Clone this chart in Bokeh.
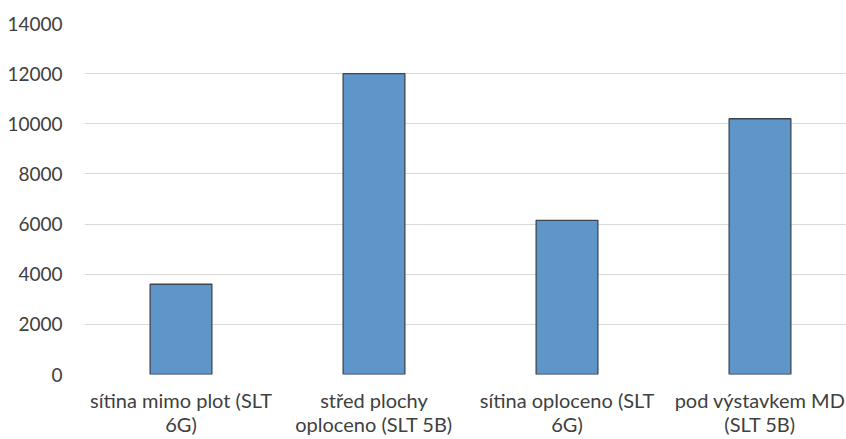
from bokeh.plotting import figure
from bokeh.models import FixedTicker, ColumnDataSource, Range1d
from bokeh.embed import file_html
from bokeh.resources import INLINE

categories = ["sítina mimo plot (SLT\n6G)", "střed plochy\noploceno (SLT 5B)",
              "sítina oploceno (SLT\n6G)", "pod výstavkem MD\n(SLT 5B)"]
values = [3600, 12000, 6150, 10200]
y_ticks = [0, 2000, 4000, 6000, 8000, 10000, 12000, 14000]

xs = [i + 0.5 for i in range(len(categories))]
src = ColumnDataSource(dict(x=xs, top=values))

p = figure(width=846, height=439, output_backend="svg", toolbar_location=None,
           x_range=Range1d(0, 762 / 193), y_range=Range1d(0, 14000),
           min_border_left=84, min_border_right=0, min_border_top=23, min_border_bottom=63)
p.outline_line_color = None
p.background_fill_color = "white"
p.border_fill_color = "white"

p.vbar(x="x", top="top", width=0.32, source=src, fill_color="#5f96ca",
       line_color="#3b4552", line_width=1.3)

p.xgrid.grid_line_color = None
p.ygrid.grid_line_color = "#d9d9d9"
p.ygrid.grid_line_width = 1.2
p.yaxis.ticker = FixedTicker(ticks=y_ticks)
p.xaxis.ticker = FixedTicker(ticks=xs)
p.xaxis.major_label_overrides = {x: c for x, c in zip(xs, categories)}

for ax in (p.xaxis[0], p.yaxis[0]):
    ax.axis_line_color = None
    ax.major_tick_line_color = None
    ax.minor_tick_line_color = None
    ax.major_label_text_font = "Lato"
    ax.major_label_text_color = "#404040"
p.xaxis.major_label_text_font_size = "20px"
p.xaxis.major_label_text_line_height = 1.04
p.yaxis.major_label_text_font_size = "19px"
p.yaxis.major_label_standoff = 16
p.xaxis.major_label_standoff = 7

open("out.html", "w").write(file_html(p, INLINE))
